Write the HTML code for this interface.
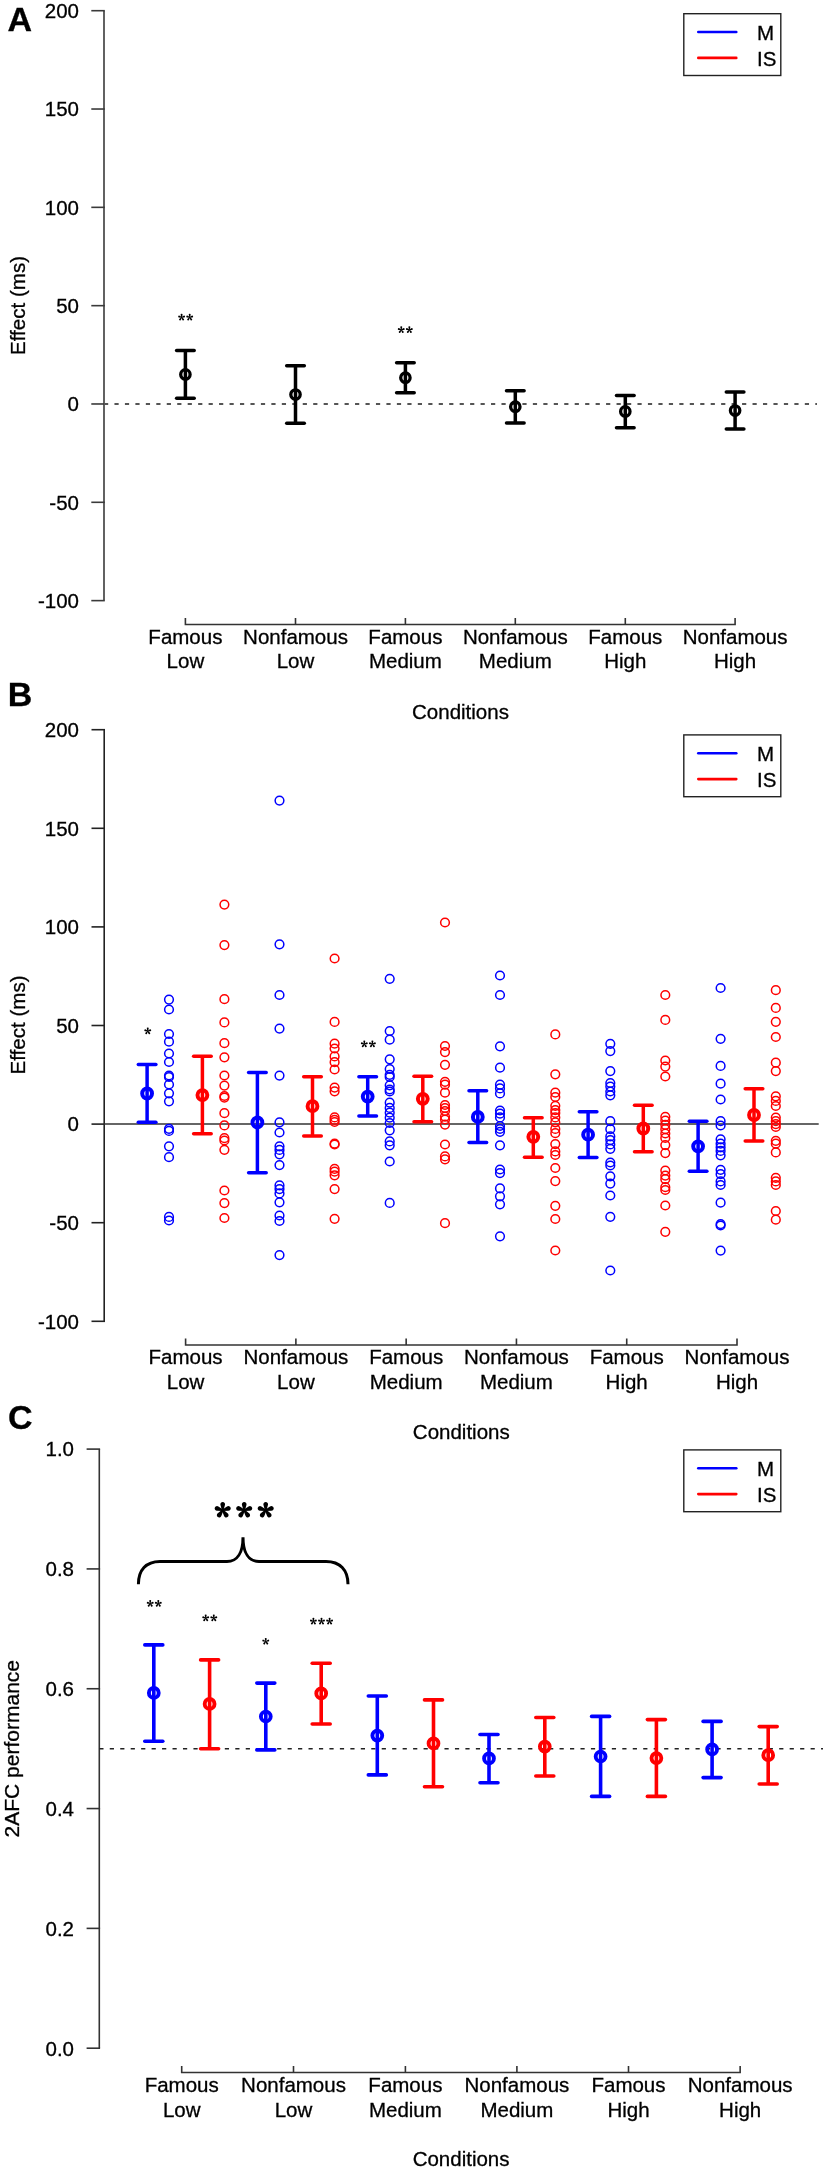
<!DOCTYPE html>
<html><head><meta charset="utf-8"><style>
html,body{margin:0;padding:0;background:#fff;}
svg{display:block;will-change:transform;}
text{font-family:"Liberation Sans", sans-serif;fill:#000;stroke:#000;stroke-width:0.3px;}
</style></head><body>
<svg width="827" height="2172" viewBox="0 0 827 2172">
<rect width="827" height="2172" fill="#fff"/>
<text x="7.5" y="31.0" text-anchor="start" font-size="34" font-weight="bold" >A</text>
<line x1="104.00" y1="10.70" x2="104.00" y2="600.62" stroke="#3a3a3a" stroke-width="1.6"/>
<line x1="91.30" y1="10.70" x2="104.80" y2="10.70" stroke="#3a3a3a" stroke-width="1.6" />
<text x="79.0" y="18.0" text-anchor="end" font-size="20.5" font-weight="normal" >200</text>
<line x1="91.30" y1="109.02" x2="104.80" y2="109.02" stroke="#3a3a3a" stroke-width="1.6" />
<text x="79.0" y="116.3" text-anchor="end" font-size="20.5" font-weight="normal" >150</text>
<line x1="91.30" y1="207.34" x2="104.80" y2="207.34" stroke="#3a3a3a" stroke-width="1.6" />
<text x="79.0" y="214.6" text-anchor="end" font-size="20.5" font-weight="normal" >100</text>
<line x1="91.30" y1="305.66" x2="104.80" y2="305.66" stroke="#3a3a3a" stroke-width="1.6" />
<text x="79.0" y="313.0" text-anchor="end" font-size="20.5" font-weight="normal" >50</text>
<line x1="91.30" y1="403.98" x2="104.80" y2="403.98" stroke="#3a3a3a" stroke-width="1.6" />
<text x="79.0" y="411.3" text-anchor="end" font-size="20.5" font-weight="normal" >0</text>
<line x1="91.30" y1="502.30" x2="104.80" y2="502.30" stroke="#3a3a3a" stroke-width="1.6" />
<text x="79.0" y="509.6" text-anchor="end" font-size="20.5" font-weight="normal" >-50</text>
<line x1="91.30" y1="600.62" x2="104.80" y2="600.62" stroke="#3a3a3a" stroke-width="1.6" />
<text x="79.0" y="607.9" text-anchor="end" font-size="20.5" font-weight="normal" >-100</text>
<text transform="translate(24.6,305.5) rotate(-90)" text-anchor="middle" font-size="20.6">Effect (ms)</text>
<line x1="104.00" y1="404.00" x2="817.00" y2="404.00" stroke="#555" stroke-width="1.8" stroke-dasharray="4.2 6.26"/>
<g stroke="#000" stroke-width="3.5" stroke-linecap="round" fill="none"><line x1="185.40" y1="350.60" x2="185.40" y2="398.20" stroke-linecap="butt"/><line x1="176.60" y1="350.60" x2="194.20" y2="350.60"/><line x1="176.60" y1="398.20" x2="194.20" y2="398.20"/><circle cx="185.40" cy="374.40" r="4.7" stroke-width="3.3" fill="none"/></g>
<g stroke="#000" stroke-width="3.5" stroke-linecap="round" fill="none"><line x1="295.50" y1="365.70" x2="295.50" y2="423.20" stroke-linecap="butt"/><line x1="286.70" y1="365.70" x2="304.30" y2="365.70"/><line x1="286.70" y1="423.20" x2="304.30" y2="423.20"/><circle cx="295.50" cy="394.50" r="4.7" stroke-width="3.3" fill="none"/></g>
<g stroke="#000" stroke-width="3.5" stroke-linecap="round" fill="none"><line x1="405.40" y1="362.70" x2="405.40" y2="392.70" stroke-linecap="butt"/><line x1="396.60" y1="362.70" x2="414.20" y2="362.70"/><line x1="396.60" y1="392.70" x2="414.20" y2="392.70"/><circle cx="405.40" cy="377.70" r="4.7" stroke-width="3.3" fill="none"/></g>
<g stroke="#000" stroke-width="3.5" stroke-linecap="round" fill="none"><line x1="515.30" y1="390.70" x2="515.30" y2="423.00" stroke-linecap="butt"/><line x1="506.50" y1="390.70" x2="524.10" y2="390.70"/><line x1="506.50" y1="423.00" x2="524.10" y2="423.00"/><circle cx="515.30" cy="406.70" r="4.7" stroke-width="3.3" fill="none"/></g>
<g stroke="#000" stroke-width="3.5" stroke-linecap="round" fill="none"><line x1="625.30" y1="395.60" x2="625.30" y2="427.70" stroke-linecap="butt"/><line x1="616.50" y1="395.60" x2="634.10" y2="395.60"/><line x1="616.50" y1="427.70" x2="634.10" y2="427.70"/><circle cx="625.30" cy="411.40" r="4.7" stroke-width="3.3" fill="none"/></g>
<g stroke="#000" stroke-width="3.5" stroke-linecap="round" fill="none"><line x1="735.10" y1="391.90" x2="735.10" y2="428.90" stroke-linecap="butt"/><line x1="726.30" y1="391.90" x2="743.90" y2="391.90"/><line x1="726.30" y1="428.90" x2="743.90" y2="428.90"/><circle cx="735.10" cy="410.60" r="4.7" stroke-width="3.3" fill="none"/></g>
<g transform="translate(181.6,317.35)" fill="#000"><path d="M-0.33,0 L-0.90,-2.31 A0.95,0.95 0 1 1 0.90,-2.31 L0.33,0 Z" transform="rotate(0)"/><path d="M-0.33,0 L-0.90,-2.31 A0.95,0.95 0 1 1 0.90,-2.31 L0.33,0 Z" transform="rotate(72)"/><path d="M-0.33,0 L-0.90,-2.31 A0.95,0.95 0 1 1 0.90,-2.31 L0.33,0 Z" transform="rotate(144)"/><path d="M-0.33,0 L-0.90,-2.31 A0.95,0.95 0 1 1 0.90,-2.31 L0.33,0 Z" transform="rotate(216)"/><path d="M-0.33,0 L-0.90,-2.31 A0.95,0.95 0 1 1 0.90,-2.31 L0.33,0 Z" transform="rotate(288)"/><circle r="0.52"/></g>
<g transform="translate(189.70000000000002,317.35)" fill="#000"><path d="M-0.33,0 L-0.90,-2.31 A0.95,0.95 0 1 1 0.90,-2.31 L0.33,0 Z" transform="rotate(0)"/><path d="M-0.33,0 L-0.90,-2.31 A0.95,0.95 0 1 1 0.90,-2.31 L0.33,0 Z" transform="rotate(72)"/><path d="M-0.33,0 L-0.90,-2.31 A0.95,0.95 0 1 1 0.90,-2.31 L0.33,0 Z" transform="rotate(144)"/><path d="M-0.33,0 L-0.90,-2.31 A0.95,0.95 0 1 1 0.90,-2.31 L0.33,0 Z" transform="rotate(216)"/><path d="M-0.33,0 L-0.90,-2.31 A0.95,0.95 0 1 1 0.90,-2.31 L0.33,0 Z" transform="rotate(288)"/><circle r="0.52"/></g>
<g transform="translate(401.25,329.85)" fill="#000"><path d="M-0.33,0 L-0.90,-2.31 A0.95,0.95 0 1 1 0.90,-2.31 L0.33,0 Z" transform="rotate(0)"/><path d="M-0.33,0 L-0.90,-2.31 A0.95,0.95 0 1 1 0.90,-2.31 L0.33,0 Z" transform="rotate(72)"/><path d="M-0.33,0 L-0.90,-2.31 A0.95,0.95 0 1 1 0.90,-2.31 L0.33,0 Z" transform="rotate(144)"/><path d="M-0.33,0 L-0.90,-2.31 A0.95,0.95 0 1 1 0.90,-2.31 L0.33,0 Z" transform="rotate(216)"/><path d="M-0.33,0 L-0.90,-2.31 A0.95,0.95 0 1 1 0.90,-2.31 L0.33,0 Z" transform="rotate(288)"/><circle r="0.52"/></g>
<g transform="translate(409.35,329.85)" fill="#000"><path d="M-0.33,0 L-0.90,-2.31 A0.95,0.95 0 1 1 0.90,-2.31 L0.33,0 Z" transform="rotate(0)"/><path d="M-0.33,0 L-0.90,-2.31 A0.95,0.95 0 1 1 0.90,-2.31 L0.33,0 Z" transform="rotate(72)"/><path d="M-0.33,0 L-0.90,-2.31 A0.95,0.95 0 1 1 0.90,-2.31 L0.33,0 Z" transform="rotate(144)"/><path d="M-0.33,0 L-0.90,-2.31 A0.95,0.95 0 1 1 0.90,-2.31 L0.33,0 Z" transform="rotate(216)"/><path d="M-0.33,0 L-0.90,-2.31 A0.95,0.95 0 1 1 0.90,-2.31 L0.33,0 Z" transform="rotate(288)"/><circle r="0.52"/></g>
<path d="M185.40,618.00 V624.50 H735.10 V618.00" stroke="#333" stroke-width="1.6" fill="none"/>
<line x1="295.50" y1="618.00" x2="295.50" y2="624.50" stroke="#333" stroke-width="1.6" />
<line x1="405.40" y1="618.00" x2="405.40" y2="624.50" stroke="#333" stroke-width="1.6" />
<line x1="515.30" y1="618.00" x2="515.30" y2="624.50" stroke="#333" stroke-width="1.6" />
<line x1="625.30" y1="618.00" x2="625.30" y2="624.50" stroke="#333" stroke-width="1.6" />
<text x="185.4" y="643.8" text-anchor="middle" font-size="20.5" font-weight="normal" >Famous</text>
<text x="185.4" y="668.3" text-anchor="middle" font-size="20.5" font-weight="normal" >Low</text>
<text x="295.5" y="643.8" text-anchor="middle" font-size="20.5" font-weight="normal" >Nonfamous</text>
<text x="295.5" y="668.3" text-anchor="middle" font-size="20.5" font-weight="normal" >Low</text>
<text x="405.4" y="643.8" text-anchor="middle" font-size="20.5" font-weight="normal" >Famous</text>
<text x="405.4" y="668.3" text-anchor="middle" font-size="20.5" font-weight="normal" >Medium</text>
<text x="515.3" y="643.8" text-anchor="middle" font-size="20.5" font-weight="normal" >Nonfamous</text>
<text x="515.3" y="668.3" text-anchor="middle" font-size="20.5" font-weight="normal" >Medium</text>
<text x="625.3" y="643.8" text-anchor="middle" font-size="20.5" font-weight="normal" >Famous</text>
<text x="625.3" y="668.3" text-anchor="middle" font-size="20.5" font-weight="normal" >High</text>
<text x="735.1" y="643.8" text-anchor="middle" font-size="20.5" font-weight="normal" >Nonfamous</text>
<text x="735.1" y="668.3" text-anchor="middle" font-size="20.5" font-weight="normal" >High</text>
<text x="460.5" y="718.5" text-anchor="middle" font-size="20.5" font-weight="normal" >Conditions</text>
<rect x="683.8" y="13.7" width="97" height="61.8" fill="#fff" stroke="#222" stroke-width="1.4"/>
<line x1="698.30" y1="32.00" x2="736.30" y2="32.00" stroke="#0000ff" stroke-width="2.6" stroke-linecap="round"/>
<line x1="698.30" y1="57.90" x2="736.30" y2="57.90" stroke="#ff0000" stroke-width="2.6" stroke-linecap="round"/>
<text x="757.0" y="39.6" text-anchor="start" font-size="20.5" font-weight="normal" >M</text>
<text x="757.0" y="65.7" text-anchor="start" font-size="20.5" font-weight="normal" >IS</text>
<text x="7.8" y="705.7" text-anchor="start" font-size="34" font-weight="bold" >B</text>
<line x1="104.20" y1="729.70" x2="104.20" y2="1321.30" stroke="#222" stroke-width="1.6"/>
<line x1="91.50" y1="729.70" x2="105.00" y2="729.70" stroke="#222" stroke-width="1.6" />
<text x="79.0" y="737.0" text-anchor="end" font-size="20.5" font-weight="normal" >200</text>
<line x1="91.50" y1="828.30" x2="105.00" y2="828.30" stroke="#222" stroke-width="1.6" />
<text x="79.0" y="835.6" text-anchor="end" font-size="20.5" font-weight="normal" >150</text>
<line x1="91.50" y1="926.90" x2="105.00" y2="926.90" stroke="#222" stroke-width="1.6" />
<text x="79.0" y="934.2" text-anchor="end" font-size="20.5" font-weight="normal" >100</text>
<line x1="91.50" y1="1025.50" x2="105.00" y2="1025.50" stroke="#222" stroke-width="1.6" />
<text x="79.0" y="1032.8" text-anchor="end" font-size="20.5" font-weight="normal" >50</text>
<line x1="91.50" y1="1124.10" x2="105.00" y2="1124.10" stroke="#222" stroke-width="1.6" />
<text x="79.0" y="1131.4" text-anchor="end" font-size="20.5" font-weight="normal" >0</text>
<line x1="91.50" y1="1222.70" x2="105.00" y2="1222.70" stroke="#222" stroke-width="1.6" />
<text x="79.0" y="1230.0" text-anchor="end" font-size="20.5" font-weight="normal" >-50</text>
<line x1="91.50" y1="1321.30" x2="105.00" y2="1321.30" stroke="#222" stroke-width="1.6" />
<text x="79.0" y="1328.6" text-anchor="end" font-size="20.5" font-weight="normal" >-100</text>
<text transform="translate(24.6,1025.0) rotate(-90)" text-anchor="middle" font-size="20.6">Effect (ms)</text>
<line x1="104.20" y1="1124.00" x2="818.70" y2="1124.00" stroke="#333" stroke-width="1.6" />
<g fill="none" stroke="#0000ff" stroke-width="1.5">
<circle cx="169.0" cy="999.6" r="4.35"/>
<circle cx="169.0" cy="1009.5" r="4.35"/>
<circle cx="169.0" cy="1034" r="4.35"/>
<circle cx="169.0" cy="1041.7" r="4.35"/>
<circle cx="169.0" cy="1053.5" r="4.35"/>
<circle cx="169.0" cy="1062" r="4.35"/>
<circle cx="169.0" cy="1075.5" r="4.35"/>
<circle cx="169.0" cy="1077" r="4.35"/>
<circle cx="169.0" cy="1084.5" r="4.35"/>
<circle cx="169.0" cy="1093.3" r="4.35"/>
<circle cx="169.0" cy="1101.3" r="4.35"/>
<circle cx="169.0" cy="1128.8" r="4.35"/>
<circle cx="169.0" cy="1130.9" r="4.35"/>
<circle cx="169.0" cy="1146.3" r="4.35"/>
<circle cx="169.0" cy="1157.2" r="4.35"/>
<circle cx="169.0" cy="1216.9" r="4.35"/>
<circle cx="169.0" cy="1220.5" r="4.35"/>
<circle cx="279.5" cy="800.6" r="4.35"/>
<circle cx="279.5" cy="944.3" r="4.35"/>
<circle cx="279.5" cy="995" r="4.35"/>
<circle cx="279.5" cy="1028.6" r="4.35"/>
<circle cx="279.5" cy="1075.6" r="4.35"/>
<circle cx="279.5" cy="1122.3" r="4.35"/>
<circle cx="279.5" cy="1132.5" r="4.35"/>
<circle cx="279.5" cy="1146.3" r="4.35"/>
<circle cx="279.5" cy="1149.9" r="4.35"/>
<circle cx="279.5" cy="1154.3" r="4.35"/>
<circle cx="279.5" cy="1165.1" r="4.35"/>
<circle cx="279.5" cy="1185.4" r="4.35"/>
<circle cx="279.5" cy="1189.1" r="4.35"/>
<circle cx="279.5" cy="1193.4" r="4.35"/>
<circle cx="279.5" cy="1202.3" r="4.35"/>
<circle cx="279.5" cy="1215.5" r="4.35"/>
<circle cx="279.5" cy="1221" r="4.35"/>
<circle cx="279.5" cy="1255.1" r="4.35"/>
<circle cx="389.7" cy="978.8" r="4.35"/>
<circle cx="389.7" cy="1031" r="4.35"/>
<circle cx="389.7" cy="1039.7" r="4.35"/>
<circle cx="389.7" cy="1059.3" r="4.35"/>
<circle cx="389.7" cy="1069" r="4.35"/>
<circle cx="389.7" cy="1074.8" r="4.35"/>
<circle cx="389.7" cy="1077" r="4.35"/>
<circle cx="389.7" cy="1085.3" r="4.35"/>
<circle cx="389.7" cy="1089.5" r="4.35"/>
<circle cx="389.7" cy="1091.5" r="4.35"/>
<circle cx="389.7" cy="1102.7" r="4.35"/>
<circle cx="389.7" cy="1107.9" r="4.35"/>
<circle cx="389.7" cy="1112.7" r="4.35"/>
<circle cx="389.7" cy="1117.7" r="4.35"/>
<circle cx="389.7" cy="1123" r="4.35"/>
<circle cx="389.7" cy="1130.3" r="4.35"/>
<circle cx="389.7" cy="1141.4" r="4.35"/>
<circle cx="389.7" cy="1145.3" r="4.35"/>
<circle cx="389.7" cy="1161.5" r="4.35"/>
<circle cx="389.7" cy="1202.9" r="4.35"/>
<circle cx="500.0" cy="975.5" r="4.35"/>
<circle cx="500.0" cy="995" r="4.35"/>
<circle cx="500.0" cy="1046.3" r="4.35"/>
<circle cx="500.0" cy="1067.7" r="4.35"/>
<circle cx="500.0" cy="1084.7" r="4.35"/>
<circle cx="500.0" cy="1088.4" r="4.35"/>
<circle cx="500.0" cy="1093.4" r="4.35"/>
<circle cx="500.0" cy="1110.5" r="4.35"/>
<circle cx="500.0" cy="1113.7" r="4.35"/>
<circle cx="500.0" cy="1117.4" r="4.35"/>
<circle cx="500.0" cy="1126" r="4.35"/>
<circle cx="500.0" cy="1129" r="4.35"/>
<circle cx="500.0" cy="1131.8" r="4.35"/>
<circle cx="500.0" cy="1145.3" r="4.35"/>
<circle cx="500.0" cy="1169.5" r="4.35"/>
<circle cx="500.0" cy="1173.1" r="4.35"/>
<circle cx="500.0" cy="1188.4" r="4.35"/>
<circle cx="500.0" cy="1196.3" r="4.35"/>
<circle cx="500.0" cy="1204.3" r="4.35"/>
<circle cx="500.0" cy="1236.3" r="4.35"/>
<circle cx="610.3" cy="1043.8" r="4.35"/>
<circle cx="610.3" cy="1051.1" r="4.35"/>
<circle cx="610.3" cy="1071.1" r="4.35"/>
<circle cx="610.3" cy="1083" r="4.35"/>
<circle cx="610.3" cy="1086.6" r="4.35"/>
<circle cx="610.3" cy="1091.5" r="4.35"/>
<circle cx="610.3" cy="1095.3" r="4.35"/>
<circle cx="610.3" cy="1121.2" r="4.35"/>
<circle cx="610.3" cy="1129.2" r="4.35"/>
<circle cx="610.3" cy="1136.4" r="4.35"/>
<circle cx="610.3" cy="1140.1" r="4.35"/>
<circle cx="610.3" cy="1144.4" r="4.35"/>
<circle cx="610.3" cy="1148.8" r="4.35"/>
<circle cx="610.3" cy="1162.5" r="4.35"/>
<circle cx="610.3" cy="1165.5" r="4.35"/>
<circle cx="610.3" cy="1176.3" r="4.35"/>
<circle cx="610.3" cy="1183.6" r="4.35"/>
<circle cx="610.3" cy="1195.5" r="4.35"/>
<circle cx="610.3" cy="1216.8" r="4.35"/>
<circle cx="610.3" cy="1270.5" r="4.35"/>
<circle cx="720.6" cy="988" r="4.35"/>
<circle cx="720.6" cy="1038.8" r="4.35"/>
<circle cx="720.6" cy="1065.9" r="4.35"/>
<circle cx="720.6" cy="1083.7" r="4.35"/>
<circle cx="720.6" cy="1099.5" r="4.35"/>
<circle cx="720.6" cy="1121.2" r="4.35"/>
<circle cx="720.6" cy="1125.5" r="4.35"/>
<circle cx="720.6" cy="1139.3" r="4.35"/>
<circle cx="720.6" cy="1143.7" r="4.35"/>
<circle cx="720.6" cy="1147.3" r="4.35"/>
<circle cx="720.6" cy="1150.9" r="4.35"/>
<circle cx="720.6" cy="1155.3" r="4.35"/>
<circle cx="720.6" cy="1169.8" r="4.35"/>
<circle cx="720.6" cy="1174.2" r="4.35"/>
<circle cx="720.6" cy="1181.4" r="4.35"/>
<circle cx="720.6" cy="1185" r="4.35"/>
<circle cx="720.6" cy="1202.7" r="4.35"/>
<circle cx="720.6" cy="1224.1" r="4.35"/>
<circle cx="720.6" cy="1225.5" r="4.35"/>
<circle cx="720.6" cy="1250.6" r="4.35"/>
</g>
<g fill="none" stroke="#ff0000" stroke-width="1.5">
<circle cx="224.4" cy="904.6" r="4.35"/>
<circle cx="224.4" cy="945.1" r="4.35"/>
<circle cx="224.4" cy="999.2" r="4.35"/>
<circle cx="224.4" cy="1022.4" r="4.35"/>
<circle cx="224.4" cy="1043.2" r="4.35"/>
<circle cx="224.4" cy="1057.3" r="4.35"/>
<circle cx="224.4" cy="1075.5" r="4.35"/>
<circle cx="224.4" cy="1085.6" r="4.35"/>
<circle cx="224.4" cy="1096" r="4.35"/>
<circle cx="224.4" cy="1097.6" r="4.35"/>
<circle cx="224.4" cy="1113.2" r="4.35"/>
<circle cx="224.4" cy="1125.4" r="4.35"/>
<circle cx="224.4" cy="1138.2" r="4.35"/>
<circle cx="224.4" cy="1140.5" r="4.35"/>
<circle cx="224.4" cy="1149.8" r="4.35"/>
<circle cx="224.4" cy="1190.5" r="4.35"/>
<circle cx="224.4" cy="1203.1" r="4.35"/>
<circle cx="224.4" cy="1218" r="4.35"/>
<circle cx="334.6" cy="958.5" r="4.35"/>
<circle cx="334.6" cy="1021.9" r="4.35"/>
<circle cx="334.6" cy="1043.7" r="4.35"/>
<circle cx="334.6" cy="1048.5" r="4.35"/>
<circle cx="334.6" cy="1056.4" r="4.35"/>
<circle cx="334.6" cy="1062.2" r="4.35"/>
<circle cx="334.6" cy="1069.5" r="4.35"/>
<circle cx="334.6" cy="1087.6" r="4.35"/>
<circle cx="334.6" cy="1091.3" r="4.35"/>
<circle cx="334.6" cy="1117.4" r="4.35"/>
<circle cx="334.6" cy="1119.8" r="4.35"/>
<circle cx="334.6" cy="1122" r="4.35"/>
<circle cx="334.6" cy="1143.7" r="4.35"/>
<circle cx="334.6" cy="1144.5" r="4.35"/>
<circle cx="334.6" cy="1168.8" r="4.35"/>
<circle cx="334.6" cy="1171.7" r="4.35"/>
<circle cx="334.6" cy="1175.3" r="4.35"/>
<circle cx="334.6" cy="1189.1" r="4.35"/>
<circle cx="334.6" cy="1218.8" r="4.35"/>
<circle cx="445.0" cy="922.5" r="4.35"/>
<circle cx="445.0" cy="1046" r="4.35"/>
<circle cx="445.0" cy="1052.1" r="4.35"/>
<circle cx="445.0" cy="1064.8" r="4.35"/>
<circle cx="445.0" cy="1081.8" r="4.35"/>
<circle cx="445.0" cy="1084.7" r="4.35"/>
<circle cx="445.0" cy="1092.7" r="4.35"/>
<circle cx="445.0" cy="1105" r="4.35"/>
<circle cx="445.0" cy="1108" r="4.35"/>
<circle cx="445.0" cy="1111" r="4.35"/>
<circle cx="445.0" cy="1116.6" r="4.35"/>
<circle cx="445.0" cy="1119.5" r="4.35"/>
<circle cx="445.0" cy="1124.6" r="4.35"/>
<circle cx="445.0" cy="1144.5" r="4.35"/>
<circle cx="445.0" cy="1156.4" r="4.35"/>
<circle cx="445.0" cy="1159.3" r="4.35"/>
<circle cx="445.0" cy="1223.2" r="4.35"/>
<circle cx="555.3" cy="1034.4" r="4.35"/>
<circle cx="555.3" cy="1074.3" r="4.35"/>
<circle cx="555.3" cy="1092.7" r="4.35"/>
<circle cx="555.3" cy="1097" r="4.35"/>
<circle cx="555.3" cy="1105.8" r="4.35"/>
<circle cx="555.3" cy="1110.1" r="4.35"/>
<circle cx="555.3" cy="1113" r="4.35"/>
<circle cx="555.3" cy="1117.4" r="4.35"/>
<circle cx="555.3" cy="1122.4" r="4.35"/>
<circle cx="555.3" cy="1128.9" r="4.35"/>
<circle cx="555.3" cy="1133.2" r="4.35"/>
<circle cx="555.3" cy="1144.1" r="4.35"/>
<circle cx="555.3" cy="1151.4" r="4.35"/>
<circle cx="555.3" cy="1155" r="4.35"/>
<circle cx="555.3" cy="1168" r="4.35"/>
<circle cx="555.3" cy="1181.1" r="4.35"/>
<circle cx="555.3" cy="1205.8" r="4.35"/>
<circle cx="555.3" cy="1219" r="4.35"/>
<circle cx="555.3" cy="1250.5" r="4.35"/>
<circle cx="665.3" cy="995" r="4.35"/>
<circle cx="665.3" cy="1019.9" r="4.35"/>
<circle cx="665.3" cy="1060.5" r="4.35"/>
<circle cx="665.3" cy="1066.6" r="4.35"/>
<circle cx="665.3" cy="1076.5" r="4.35"/>
<circle cx="665.3" cy="1116.8" r="4.35"/>
<circle cx="665.3" cy="1120.5" r="4.35"/>
<circle cx="665.3" cy="1124.8" r="4.35"/>
<circle cx="665.3" cy="1129.2" r="4.35"/>
<circle cx="665.3" cy="1133.5" r="4.35"/>
<circle cx="665.3" cy="1137.9" r="4.35"/>
<circle cx="665.3" cy="1145.1" r="4.35"/>
<circle cx="665.3" cy="1153.1" r="4.35"/>
<circle cx="665.3" cy="1170.5" r="4.35"/>
<circle cx="665.3" cy="1175.6" r="4.35"/>
<circle cx="665.3" cy="1179.2" r="4.35"/>
<circle cx="665.3" cy="1187.2" r="4.35"/>
<circle cx="665.3" cy="1190" r="4.35"/>
<circle cx="665.3" cy="1205.5" r="4.35"/>
<circle cx="665.3" cy="1231.8" r="4.35"/>
<circle cx="775.8" cy="990.2" r="4.35"/>
<circle cx="775.8" cy="1007.9" r="4.35"/>
<circle cx="775.8" cy="1021.8" r="4.35"/>
<circle cx="775.8" cy="1037" r="4.35"/>
<circle cx="775.8" cy="1062.7" r="4.35"/>
<circle cx="775.8" cy="1071.1" r="4.35"/>
<circle cx="775.8" cy="1096.3" r="4.35"/>
<circle cx="775.8" cy="1100.9" r="4.35"/>
<circle cx="775.8" cy="1106" r="4.35"/>
<circle cx="775.8" cy="1117.6" r="4.35"/>
<circle cx="775.8" cy="1121.2" r="4.35"/>
<circle cx="775.8" cy="1124.1" r="4.35"/>
<circle cx="775.8" cy="1127" r="4.35"/>
<circle cx="775.8" cy="1140.8" r="4.35"/>
<circle cx="775.8" cy="1143.7" r="4.35"/>
<circle cx="775.8" cy="1152.4" r="4.35"/>
<circle cx="775.8" cy="1177.8" r="4.35"/>
<circle cx="775.8" cy="1181.4" r="4.35"/>
<circle cx="775.8" cy="1185" r="4.35"/>
<circle cx="775.8" cy="1211" r="4.35"/>
<circle cx="775.8" cy="1219.7" r="4.35"/>
</g>
<g stroke="#0000ff" stroke-width="3.5" stroke-linecap="round" fill="none"><line x1="147.10" y1="1064.50" x2="147.10" y2="1122.20" stroke-linecap="butt"/><line x1="138.30" y1="1064.50" x2="155.90" y2="1064.50"/><line x1="138.30" y1="1122.20" x2="155.90" y2="1122.20"/><circle cx="147.10" cy="1093.50" r="4.9" stroke-width="4.0" fill="none"/></g>
<g stroke="#ff0000" stroke-width="3.5" stroke-linecap="round" fill="none"><line x1="202.40" y1="1056.20" x2="202.40" y2="1133.80" stroke-linecap="butt"/><line x1="193.60" y1="1056.20" x2="211.20" y2="1056.20"/><line x1="193.60" y1="1133.80" x2="211.20" y2="1133.80"/><circle cx="202.40" cy="1095.10" r="4.9" stroke-width="4.0" fill="none"/></g>
<g stroke="#0000ff" stroke-width="3.5" stroke-linecap="round" fill="none"><line x1="257.40" y1="1072.40" x2="257.40" y2="1172.80" stroke-linecap="butt"/><line x1="248.60" y1="1072.40" x2="266.20" y2="1072.40"/><line x1="248.60" y1="1172.80" x2="266.20" y2="1172.80"/><circle cx="257.40" cy="1122.40" r="4.9" stroke-width="4.0" fill="none"/></g>
<g stroke="#ff0000" stroke-width="3.5" stroke-linecap="round" fill="none"><line x1="312.50" y1="1076.70" x2="312.50" y2="1136.10" stroke-linecap="butt"/><line x1="303.70" y1="1076.70" x2="321.30" y2="1076.70"/><line x1="303.70" y1="1136.10" x2="321.30" y2="1136.10"/><circle cx="312.50" cy="1106.20" r="4.9" stroke-width="4.0" fill="none"/></g>
<g stroke="#0000ff" stroke-width="3.5" stroke-linecap="round" fill="none"><line x1="367.70" y1="1076.70" x2="367.70" y2="1116.10" stroke-linecap="butt"/><line x1="358.90" y1="1076.70" x2="376.50" y2="1076.70"/><line x1="358.90" y1="1116.10" x2="376.50" y2="1116.10"/><circle cx="367.70" cy="1096.60" r="4.9" stroke-width="4.0" fill="none"/></g>
<g stroke="#ff0000" stroke-width="3.5" stroke-linecap="round" fill="none"><line x1="422.80" y1="1076.30" x2="422.80" y2="1121.70" stroke-linecap="butt"/><line x1="414.00" y1="1076.30" x2="431.60" y2="1076.30"/><line x1="414.00" y1="1121.70" x2="431.60" y2="1121.70"/><circle cx="422.80" cy="1098.80" r="4.9" stroke-width="4.0" fill="none"/></g>
<g stroke="#0000ff" stroke-width="3.5" stroke-linecap="round" fill="none"><line x1="477.80" y1="1090.80" x2="477.80" y2="1142.60" stroke-linecap="butt"/><line x1="469.00" y1="1090.80" x2="486.60" y2="1090.80"/><line x1="469.00" y1="1142.60" x2="486.60" y2="1142.60"/><circle cx="477.80" cy="1116.90" r="4.9" stroke-width="4.0" fill="none"/></g>
<g stroke="#ff0000" stroke-width="3.5" stroke-linecap="round" fill="none"><line x1="533.30" y1="1117.70" x2="533.30" y2="1157.20" stroke-linecap="butt"/><line x1="524.50" y1="1117.70" x2="542.10" y2="1117.70"/><line x1="524.50" y1="1157.20" x2="542.10" y2="1157.20"/><circle cx="533.30" cy="1136.80" r="4.9" stroke-width="4.0" fill="none"/></g>
<g stroke="#0000ff" stroke-width="3.5" stroke-linecap="round" fill="none"><line x1="588.10" y1="1111.80" x2="588.10" y2="1157.50" stroke-linecap="butt"/><line x1="579.30" y1="1111.80" x2="596.90" y2="1111.80"/><line x1="579.30" y1="1157.50" x2="596.90" y2="1157.50"/><circle cx="588.10" cy="1134.70" r="4.9" stroke-width="4.0" fill="none"/></g>
<g stroke="#ff0000" stroke-width="3.5" stroke-linecap="round" fill="none"><line x1="643.30" y1="1105.20" x2="643.30" y2="1151.70" stroke-linecap="butt"/><line x1="634.50" y1="1105.20" x2="652.10" y2="1105.20"/><line x1="634.50" y1="1151.70" x2="652.10" y2="1151.70"/><circle cx="643.30" cy="1128.50" r="4.9" stroke-width="4.0" fill="none"/></g>
<g stroke="#0000ff" stroke-width="3.5" stroke-linecap="round" fill="none"><line x1="698.10" y1="1121.20" x2="698.10" y2="1171.30" stroke-linecap="butt"/><line x1="689.30" y1="1121.20" x2="706.90" y2="1121.20"/><line x1="689.30" y1="1171.30" x2="706.90" y2="1171.30"/><circle cx="698.10" cy="1146.30" r="4.9" stroke-width="4.0" fill="none"/></g>
<g stroke="#ff0000" stroke-width="3.5" stroke-linecap="round" fill="none"><line x1="754.00" y1="1088.80" x2="754.00" y2="1141.10" stroke-linecap="butt"/><line x1="745.20" y1="1088.80" x2="762.80" y2="1088.80"/><line x1="745.20" y1="1141.10" x2="762.80" y2="1141.10"/><circle cx="754.00" cy="1115.00" r="4.9" stroke-width="4.0" fill="none"/></g>
<g transform="translate(147.75,1031.1499999999999)" fill="#000"><path d="M-0.33,0 L-0.90,-2.31 A0.95,0.95 0 1 1 0.90,-2.31 L0.33,0 Z" transform="rotate(0)"/><path d="M-0.33,0 L-0.90,-2.31 A0.95,0.95 0 1 1 0.90,-2.31 L0.33,0 Z" transform="rotate(72)"/><path d="M-0.33,0 L-0.90,-2.31 A0.95,0.95 0 1 1 0.90,-2.31 L0.33,0 Z" transform="rotate(144)"/><path d="M-0.33,0 L-0.90,-2.31 A0.95,0.95 0 1 1 0.90,-2.31 L0.33,0 Z" transform="rotate(216)"/><path d="M-0.33,0 L-0.90,-2.31 A0.95,0.95 0 1 1 0.90,-2.31 L0.33,0 Z" transform="rotate(288)"/><circle r="0.52"/></g>
<g transform="translate(364.3,1044.05)" fill="#000"><path d="M-0.33,0 L-0.90,-2.31 A0.95,0.95 0 1 1 0.90,-2.31 L0.33,0 Z" transform="rotate(0)"/><path d="M-0.33,0 L-0.90,-2.31 A0.95,0.95 0 1 1 0.90,-2.31 L0.33,0 Z" transform="rotate(72)"/><path d="M-0.33,0 L-0.90,-2.31 A0.95,0.95 0 1 1 0.90,-2.31 L0.33,0 Z" transform="rotate(144)"/><path d="M-0.33,0 L-0.90,-2.31 A0.95,0.95 0 1 1 0.90,-2.31 L0.33,0 Z" transform="rotate(216)"/><path d="M-0.33,0 L-0.90,-2.31 A0.95,0.95 0 1 1 0.90,-2.31 L0.33,0 Z" transform="rotate(288)"/><circle r="0.52"/></g>
<g transform="translate(372.40000000000003,1044.05)" fill="#000"><path d="M-0.33,0 L-0.90,-2.31 A0.95,0.95 0 1 1 0.90,-2.31 L0.33,0 Z" transform="rotate(0)"/><path d="M-0.33,0 L-0.90,-2.31 A0.95,0.95 0 1 1 0.90,-2.31 L0.33,0 Z" transform="rotate(72)"/><path d="M-0.33,0 L-0.90,-2.31 A0.95,0.95 0 1 1 0.90,-2.31 L0.33,0 Z" transform="rotate(144)"/><path d="M-0.33,0 L-0.90,-2.31 A0.95,0.95 0 1 1 0.90,-2.31 L0.33,0 Z" transform="rotate(216)"/><path d="M-0.33,0 L-0.90,-2.31 A0.95,0.95 0 1 1 0.90,-2.31 L0.33,0 Z" transform="rotate(288)"/><circle r="0.52"/></g>
<path d="M185.60,1338.50 V1345.00 H737.00 V1338.50" stroke="#333" stroke-width="1.6" fill="none"/>
<line x1="295.88" y1="1338.50" x2="295.88" y2="1345.00" stroke="#333" stroke-width="1.6" />
<line x1="406.16" y1="1338.50" x2="406.16" y2="1345.00" stroke="#333" stroke-width="1.6" />
<line x1="516.44" y1="1338.50" x2="516.44" y2="1345.00" stroke="#333" stroke-width="1.6" />
<line x1="626.72" y1="1338.50" x2="626.72" y2="1345.00" stroke="#333" stroke-width="1.6" />
<text x="185.6" y="1364.3" text-anchor="middle" font-size="20.5" font-weight="normal" >Famous</text>
<text x="185.6" y="1388.8" text-anchor="middle" font-size="20.5" font-weight="normal" >Low</text>
<text x="295.9" y="1364.3" text-anchor="middle" font-size="20.5" font-weight="normal" >Nonfamous</text>
<text x="295.9" y="1388.8" text-anchor="middle" font-size="20.5" font-weight="normal" >Low</text>
<text x="406.2" y="1364.3" text-anchor="middle" font-size="20.5" font-weight="normal" >Famous</text>
<text x="406.2" y="1388.8" text-anchor="middle" font-size="20.5" font-weight="normal" >Medium</text>
<text x="516.4" y="1364.3" text-anchor="middle" font-size="20.5" font-weight="normal" >Nonfamous</text>
<text x="516.4" y="1388.8" text-anchor="middle" font-size="20.5" font-weight="normal" >Medium</text>
<text x="626.7" y="1364.3" text-anchor="middle" font-size="20.5" font-weight="normal" >Famous</text>
<text x="626.7" y="1388.8" text-anchor="middle" font-size="20.5" font-weight="normal" >High</text>
<text x="737.0" y="1364.3" text-anchor="middle" font-size="20.5" font-weight="normal" >Nonfamous</text>
<text x="737.0" y="1388.8" text-anchor="middle" font-size="20.5" font-weight="normal" >High</text>
<text x="461.3" y="1439.2" text-anchor="middle" font-size="20.5" font-weight="normal" >Conditions</text>
<rect x="683.8" y="734.9" width="97" height="61.8" fill="#fff" stroke="#222" stroke-width="1.4"/>
<line x1="698.30" y1="753.20" x2="736.30" y2="753.20" stroke="#0000ff" stroke-width="2.6" stroke-linecap="round"/>
<line x1="698.30" y1="779.10" x2="736.30" y2="779.10" stroke="#ff0000" stroke-width="2.6" stroke-linecap="round"/>
<text x="757.0" y="760.8" text-anchor="start" font-size="20.5" font-weight="normal" >M</text>
<text x="757.0" y="786.9" text-anchor="start" font-size="20.5" font-weight="normal" >IS</text>
<text x="8.0" y="1429.2" text-anchor="start" font-size="34" font-weight="bold" >C</text>
<line x1="99.30" y1="1449.10" x2="99.30" y2="2048.20" stroke="#333" stroke-width="1.6"/>
<line x1="86.60" y1="1449.10" x2="100.10" y2="1449.10" stroke="#333" stroke-width="1.6" />
<text x="74.0" y="1456.4" text-anchor="end" font-size="20.5" font-weight="normal" >1.0</text>
<line x1="86.60" y1="1568.92" x2="100.10" y2="1568.92" stroke="#333" stroke-width="1.6" />
<text x="74.0" y="1576.2" text-anchor="end" font-size="20.5" font-weight="normal" >0.8</text>
<line x1="86.60" y1="1688.74" x2="100.10" y2="1688.74" stroke="#333" stroke-width="1.6" />
<text x="74.0" y="1696.0" text-anchor="end" font-size="20.5" font-weight="normal" >0.6</text>
<line x1="86.60" y1="1808.56" x2="100.10" y2="1808.56" stroke="#333" stroke-width="1.6" />
<text x="74.0" y="1815.9" text-anchor="end" font-size="20.5" font-weight="normal" >0.4</text>
<line x1="86.60" y1="1928.38" x2="100.10" y2="1928.38" stroke="#333" stroke-width="1.6" />
<text x="74.0" y="1935.7" text-anchor="end" font-size="20.5" font-weight="normal" >0.2</text>
<line x1="86.60" y1="2048.20" x2="100.10" y2="2048.20" stroke="#333" stroke-width="1.6" />
<text x="74.0" y="2055.5" text-anchor="end" font-size="20.5" font-weight="normal" >0.0</text>
<text transform="translate(19,1748.7) rotate(-90)" text-anchor="middle" font-size="21">2AFC performance</text>
<line x1="99.30" y1="1748.70" x2="823.00" y2="1748.70" stroke="#222" stroke-width="1.6" stroke-dasharray="4.2 6.26"/>
<g stroke="#0000ff" stroke-width="3.6" stroke-linecap="round" fill="none"><line x1="153.80" y1="1644.90" x2="153.80" y2="1741.30" stroke-linecap="butt"/><line x1="144.80" y1="1644.90" x2="162.80" y2="1644.90"/><line x1="144.80" y1="1741.30" x2="162.80" y2="1741.30"/><circle cx="153.80" cy="1692.90" r="4.9" stroke-width="3.9" fill="none"/></g>
<g stroke="#ff0000" stroke-width="3.6" stroke-linecap="round" fill="none"><line x1="209.60" y1="1659.90" x2="209.60" y2="1748.70" stroke-linecap="butt"/><line x1="200.60" y1="1659.90" x2="218.60" y2="1659.90"/><line x1="200.60" y1="1748.70" x2="218.60" y2="1748.70"/><circle cx="209.60" cy="1703.90" r="4.9" stroke-width="3.9" fill="none"/></g>
<g stroke="#0000ff" stroke-width="3.6" stroke-linecap="round" fill="none"><line x1="265.80" y1="1683.10" x2="265.80" y2="1749.90" stroke-linecap="butt"/><line x1="256.80" y1="1683.10" x2="274.80" y2="1683.10"/><line x1="256.80" y1="1749.90" x2="274.80" y2="1749.90"/><circle cx="265.80" cy="1716.50" r="4.9" stroke-width="3.9" fill="none"/></g>
<g stroke="#ff0000" stroke-width="3.6" stroke-linecap="round" fill="none"><line x1="321.20" y1="1663.30" x2="321.20" y2="1724.00" stroke-linecap="butt"/><line x1="312.20" y1="1663.30" x2="330.20" y2="1663.30"/><line x1="312.20" y1="1724.00" x2="330.20" y2="1724.00"/><circle cx="321.20" cy="1693.40" r="4.9" stroke-width="3.9" fill="none"/></g>
<g stroke="#0000ff" stroke-width="3.6" stroke-linecap="round" fill="none"><line x1="377.30" y1="1696.00" x2="377.30" y2="1774.90" stroke-linecap="butt"/><line x1="368.30" y1="1696.00" x2="386.30" y2="1696.00"/><line x1="368.30" y1="1774.90" x2="386.30" y2="1774.90"/><circle cx="377.30" cy="1735.60" r="4.9" stroke-width="3.9" fill="none"/></g>
<g stroke="#ff0000" stroke-width="3.6" stroke-linecap="round" fill="none"><line x1="433.50" y1="1699.90" x2="433.50" y2="1786.70" stroke-linecap="butt"/><line x1="424.50" y1="1699.90" x2="442.50" y2="1699.90"/><line x1="424.50" y1="1786.70" x2="442.50" y2="1786.70"/><circle cx="433.50" cy="1743.40" r="4.9" stroke-width="3.9" fill="none"/></g>
<g stroke="#0000ff" stroke-width="3.6" stroke-linecap="round" fill="none"><line x1="489.00" y1="1734.50" x2="489.00" y2="1782.70" stroke-linecap="butt"/><line x1="480.00" y1="1734.50" x2="498.00" y2="1734.50"/><line x1="480.00" y1="1782.70" x2="498.00" y2="1782.70"/><circle cx="489.00" cy="1758.40" r="4.9" stroke-width="3.9" fill="none"/></g>
<g stroke="#ff0000" stroke-width="3.6" stroke-linecap="round" fill="none"><line x1="544.80" y1="1717.50" x2="544.80" y2="1776.00" stroke-linecap="butt"/><line x1="535.80" y1="1717.50" x2="553.80" y2="1717.50"/><line x1="535.80" y1="1776.00" x2="553.80" y2="1776.00"/><circle cx="544.80" cy="1746.60" r="4.9" stroke-width="3.9" fill="none"/></g>
<g stroke="#0000ff" stroke-width="3.6" stroke-linecap="round" fill="none"><line x1="600.60" y1="1716.40" x2="600.60" y2="1796.40" stroke-linecap="butt"/><line x1="591.60" y1="1716.40" x2="609.60" y2="1716.40"/><line x1="591.60" y1="1796.40" x2="609.60" y2="1796.40"/><circle cx="600.60" cy="1756.50" r="4.9" stroke-width="3.9" fill="none"/></g>
<g stroke="#ff0000" stroke-width="3.6" stroke-linecap="round" fill="none"><line x1="656.40" y1="1719.60" x2="656.40" y2="1796.40" stroke-linecap="butt"/><line x1="647.40" y1="1719.60" x2="665.40" y2="1719.60"/><line x1="647.40" y1="1796.40" x2="665.40" y2="1796.40"/><circle cx="656.40" cy="1758.10" r="4.9" stroke-width="3.9" fill="none"/></g>
<g stroke="#0000ff" stroke-width="3.6" stroke-linecap="round" fill="none"><line x1="712.10" y1="1721.40" x2="712.10" y2="1777.60" stroke-linecap="butt"/><line x1="703.10" y1="1721.40" x2="721.10" y2="1721.40"/><line x1="703.10" y1="1777.60" x2="721.10" y2="1777.60"/><circle cx="712.10" cy="1749.40" r="4.9" stroke-width="3.9" fill="none"/></g>
<g stroke="#ff0000" stroke-width="3.6" stroke-linecap="round" fill="none"><line x1="768.20" y1="1726.60" x2="768.20" y2="1784.00" stroke-linecap="butt"/><line x1="759.20" y1="1726.60" x2="777.20" y2="1726.60"/><line x1="759.20" y1="1784.00" x2="777.20" y2="1784.00"/><circle cx="768.20" cy="1755.20" r="4.9" stroke-width="3.9" fill="none"/></g>
<g transform="translate(150.2,1603.55)" fill="#000"><path d="M-0.33,0 L-0.90,-2.31 A0.95,0.95 0 1 1 0.90,-2.31 L0.33,0 Z" transform="rotate(0)"/><path d="M-0.33,0 L-0.90,-2.31 A0.95,0.95 0 1 1 0.90,-2.31 L0.33,0 Z" transform="rotate(72)"/><path d="M-0.33,0 L-0.90,-2.31 A0.95,0.95 0 1 1 0.90,-2.31 L0.33,0 Z" transform="rotate(144)"/><path d="M-0.33,0 L-0.90,-2.31 A0.95,0.95 0 1 1 0.90,-2.31 L0.33,0 Z" transform="rotate(216)"/><path d="M-0.33,0 L-0.90,-2.31 A0.95,0.95 0 1 1 0.90,-2.31 L0.33,0 Z" transform="rotate(288)"/><circle r="0.52"/></g>
<g transform="translate(158.3,1603.55)" fill="#000"><path d="M-0.33,0 L-0.90,-2.31 A0.95,0.95 0 1 1 0.90,-2.31 L0.33,0 Z" transform="rotate(0)"/><path d="M-0.33,0 L-0.90,-2.31 A0.95,0.95 0 1 1 0.90,-2.31 L0.33,0 Z" transform="rotate(72)"/><path d="M-0.33,0 L-0.90,-2.31 A0.95,0.95 0 1 1 0.90,-2.31 L0.33,0 Z" transform="rotate(144)"/><path d="M-0.33,0 L-0.90,-2.31 A0.95,0.95 0 1 1 0.90,-2.31 L0.33,0 Z" transform="rotate(216)"/><path d="M-0.33,0 L-0.90,-2.31 A0.95,0.95 0 1 1 0.90,-2.31 L0.33,0 Z" transform="rotate(288)"/><circle r="0.52"/></g>
<g transform="translate(205.7,1618.05)" fill="#000"><path d="M-0.33,0 L-0.90,-2.31 A0.95,0.95 0 1 1 0.90,-2.31 L0.33,0 Z" transform="rotate(0)"/><path d="M-0.33,0 L-0.90,-2.31 A0.95,0.95 0 1 1 0.90,-2.31 L0.33,0 Z" transform="rotate(72)"/><path d="M-0.33,0 L-0.90,-2.31 A0.95,0.95 0 1 1 0.90,-2.31 L0.33,0 Z" transform="rotate(144)"/><path d="M-0.33,0 L-0.90,-2.31 A0.95,0.95 0 1 1 0.90,-2.31 L0.33,0 Z" transform="rotate(216)"/><path d="M-0.33,0 L-0.90,-2.31 A0.95,0.95 0 1 1 0.90,-2.31 L0.33,0 Z" transform="rotate(288)"/><circle r="0.52"/></g>
<g transform="translate(213.8,1618.05)" fill="#000"><path d="M-0.33,0 L-0.90,-2.31 A0.95,0.95 0 1 1 0.90,-2.31 L0.33,0 Z" transform="rotate(0)"/><path d="M-0.33,0 L-0.90,-2.31 A0.95,0.95 0 1 1 0.90,-2.31 L0.33,0 Z" transform="rotate(72)"/><path d="M-0.33,0 L-0.90,-2.31 A0.95,0.95 0 1 1 0.90,-2.31 L0.33,0 Z" transform="rotate(144)"/><path d="M-0.33,0 L-0.90,-2.31 A0.95,0.95 0 1 1 0.90,-2.31 L0.33,0 Z" transform="rotate(216)"/><path d="M-0.33,0 L-0.90,-2.31 A0.95,0.95 0 1 1 0.90,-2.31 L0.33,0 Z" transform="rotate(288)"/><circle r="0.52"/></g>
<g transform="translate(265.75,1641.45)" fill="#000"><path d="M-0.33,0 L-0.90,-2.31 A0.95,0.95 0 1 1 0.90,-2.31 L0.33,0 Z" transform="rotate(0)"/><path d="M-0.33,0 L-0.90,-2.31 A0.95,0.95 0 1 1 0.90,-2.31 L0.33,0 Z" transform="rotate(72)"/><path d="M-0.33,0 L-0.90,-2.31 A0.95,0.95 0 1 1 0.90,-2.31 L0.33,0 Z" transform="rotate(144)"/><path d="M-0.33,0 L-0.90,-2.31 A0.95,0.95 0 1 1 0.90,-2.31 L0.33,0 Z" transform="rotate(216)"/><path d="M-0.33,0 L-0.90,-2.31 A0.95,0.95 0 1 1 0.90,-2.31 L0.33,0 Z" transform="rotate(288)"/><circle r="0.52"/></g>
<g transform="translate(313.4,1621.35)" fill="#000"><path d="M-0.33,0 L-0.90,-2.31 A0.95,0.95 0 1 1 0.90,-2.31 L0.33,0 Z" transform="rotate(0)"/><path d="M-0.33,0 L-0.90,-2.31 A0.95,0.95 0 1 1 0.90,-2.31 L0.33,0 Z" transform="rotate(72)"/><path d="M-0.33,0 L-0.90,-2.31 A0.95,0.95 0 1 1 0.90,-2.31 L0.33,0 Z" transform="rotate(144)"/><path d="M-0.33,0 L-0.90,-2.31 A0.95,0.95 0 1 1 0.90,-2.31 L0.33,0 Z" transform="rotate(216)"/><path d="M-0.33,0 L-0.90,-2.31 A0.95,0.95 0 1 1 0.90,-2.31 L0.33,0 Z" transform="rotate(288)"/><circle r="0.52"/></g>
<g transform="translate(321.5,1621.35)" fill="#000"><path d="M-0.33,0 L-0.90,-2.31 A0.95,0.95 0 1 1 0.90,-2.31 L0.33,0 Z" transform="rotate(0)"/><path d="M-0.33,0 L-0.90,-2.31 A0.95,0.95 0 1 1 0.90,-2.31 L0.33,0 Z" transform="rotate(72)"/><path d="M-0.33,0 L-0.90,-2.31 A0.95,0.95 0 1 1 0.90,-2.31 L0.33,0 Z" transform="rotate(144)"/><path d="M-0.33,0 L-0.90,-2.31 A0.95,0.95 0 1 1 0.90,-2.31 L0.33,0 Z" transform="rotate(216)"/><path d="M-0.33,0 L-0.90,-2.31 A0.95,0.95 0 1 1 0.90,-2.31 L0.33,0 Z" transform="rotate(288)"/><circle r="0.52"/></g>
<g transform="translate(329.6,1621.35)" fill="#000"><path d="M-0.33,0 L-0.90,-2.31 A0.95,0.95 0 1 1 0.90,-2.31 L0.33,0 Z" transform="rotate(0)"/><path d="M-0.33,0 L-0.90,-2.31 A0.95,0.95 0 1 1 0.90,-2.31 L0.33,0 Z" transform="rotate(72)"/><path d="M-0.33,0 L-0.90,-2.31 A0.95,0.95 0 1 1 0.90,-2.31 L0.33,0 Z" transform="rotate(144)"/><path d="M-0.33,0 L-0.90,-2.31 A0.95,0.95 0 1 1 0.90,-2.31 L0.33,0 Z" transform="rotate(216)"/><path d="M-0.33,0 L-0.90,-2.31 A0.95,0.95 0 1 1 0.90,-2.31 L0.33,0 Z" transform="rotate(288)"/><circle r="0.52"/></g>
<path d="M138.4,1584.3 C138.4,1570 146,1561.5 160,1561.5 H227 C237,1561.5 243,1553 243,1537.2 C243,1553 249,1561.5 259,1561.5 H326 C340,1561.5 348,1570 348,1584.3" fill="none" stroke="#000" stroke-width="3"/>
<g transform="translate(222.7,1510.3)" fill="#000"><path d="M-0.82,0 L-2.23,-5.25 A2.35,2.35 0 1 1 2.23,-5.25 L0.82,0 Z" transform="rotate(0)"/><path d="M-0.82,0 L-2.23,-5.25 A2.35,2.35 0 1 1 2.23,-5.25 L0.82,0 Z" transform="rotate(72)"/><path d="M-0.82,0 L-2.23,-5.25 A2.35,2.35 0 1 1 2.23,-5.25 L0.82,0 Z" transform="rotate(144)"/><path d="M-0.82,0 L-2.23,-5.25 A2.35,2.35 0 1 1 2.23,-5.25 L0.82,0 Z" transform="rotate(216)"/><path d="M-0.82,0 L-2.23,-5.25 A2.35,2.35 0 1 1 2.23,-5.25 L0.82,0 Z" transform="rotate(288)"/><circle r="1.29"/></g>
<g transform="translate(244.2,1510.3)" fill="#000"><path d="M-0.82,0 L-2.23,-5.25 A2.35,2.35 0 1 1 2.23,-5.25 L0.82,0 Z" transform="rotate(0)"/><path d="M-0.82,0 L-2.23,-5.25 A2.35,2.35 0 1 1 2.23,-5.25 L0.82,0 Z" transform="rotate(72)"/><path d="M-0.82,0 L-2.23,-5.25 A2.35,2.35 0 1 1 2.23,-5.25 L0.82,0 Z" transform="rotate(144)"/><path d="M-0.82,0 L-2.23,-5.25 A2.35,2.35 0 1 1 2.23,-5.25 L0.82,0 Z" transform="rotate(216)"/><path d="M-0.82,0 L-2.23,-5.25 A2.35,2.35 0 1 1 2.23,-5.25 L0.82,0 Z" transform="rotate(288)"/><circle r="1.29"/></g>
<g transform="translate(265.7,1510.3)" fill="#000"><path d="M-0.82,0 L-2.23,-5.25 A2.35,2.35 0 1 1 2.23,-5.25 L0.82,0 Z" transform="rotate(0)"/><path d="M-0.82,0 L-2.23,-5.25 A2.35,2.35 0 1 1 2.23,-5.25 L0.82,0 Z" transform="rotate(72)"/><path d="M-0.82,0 L-2.23,-5.25 A2.35,2.35 0 1 1 2.23,-5.25 L0.82,0 Z" transform="rotate(144)"/><path d="M-0.82,0 L-2.23,-5.25 A2.35,2.35 0 1 1 2.23,-5.25 L0.82,0 Z" transform="rotate(216)"/><path d="M-0.82,0 L-2.23,-5.25 A2.35,2.35 0 1 1 2.23,-5.25 L0.82,0 Z" transform="rotate(288)"/><circle r="1.29"/></g>
<path d="M181.70,2066.00 V2072.50 H740.15 V2066.00" stroke="#333" stroke-width="1.6" fill="none"/>
<line x1="293.50" y1="2066.00" x2="293.50" y2="2072.50" stroke="#333" stroke-width="1.6" />
<line x1="405.40" y1="2066.00" x2="405.40" y2="2072.50" stroke="#333" stroke-width="1.6" />
<line x1="516.90" y1="2066.00" x2="516.90" y2="2072.50" stroke="#333" stroke-width="1.6" />
<line x1="628.50" y1="2066.00" x2="628.50" y2="2072.50" stroke="#333" stroke-width="1.6" />
<text x="181.7" y="2091.8" text-anchor="middle" font-size="20.5" font-weight="normal" >Famous</text>
<text x="181.7" y="2117.4" text-anchor="middle" font-size="20.5" font-weight="normal" >Low</text>
<text x="293.5" y="2091.8" text-anchor="middle" font-size="20.5" font-weight="normal" >Nonfamous</text>
<text x="293.5" y="2117.4" text-anchor="middle" font-size="20.5" font-weight="normal" >Low</text>
<text x="405.4" y="2091.8" text-anchor="middle" font-size="20.5" font-weight="normal" >Famous</text>
<text x="405.4" y="2117.4" text-anchor="middle" font-size="20.5" font-weight="normal" >Medium</text>
<text x="516.9" y="2091.8" text-anchor="middle" font-size="20.5" font-weight="normal" >Nonfamous</text>
<text x="516.9" y="2117.4" text-anchor="middle" font-size="20.5" font-weight="normal" >Medium</text>
<text x="628.5" y="2091.8" text-anchor="middle" font-size="20.5" font-weight="normal" >Famous</text>
<text x="628.5" y="2117.4" text-anchor="middle" font-size="20.5" font-weight="normal" >High</text>
<text x="740.2" y="2091.8" text-anchor="middle" font-size="20.5" font-weight="normal" >Nonfamous</text>
<text x="740.2" y="2117.4" text-anchor="middle" font-size="20.5" font-weight="normal" >High</text>
<text x="461.1" y="2166.4" text-anchor="middle" font-size="20.5" font-weight="normal" >Conditions</text>
<rect x="683.8" y="1449.9" width="97" height="61.8" fill="#fff" stroke="#222" stroke-width="1.4"/>
<line x1="698.30" y1="1468.20" x2="736.30" y2="1468.20" stroke="#0000ff" stroke-width="2.6" stroke-linecap="round"/>
<line x1="698.30" y1="1494.10" x2="736.30" y2="1494.10" stroke="#ff0000" stroke-width="2.6" stroke-linecap="round"/>
<text x="757.0" y="1475.8" text-anchor="start" font-size="20.5" font-weight="normal" >M</text>
<text x="757.0" y="1501.9" text-anchor="start" font-size="20.5" font-weight="normal" >IS</text>
</svg>
</body></html>
